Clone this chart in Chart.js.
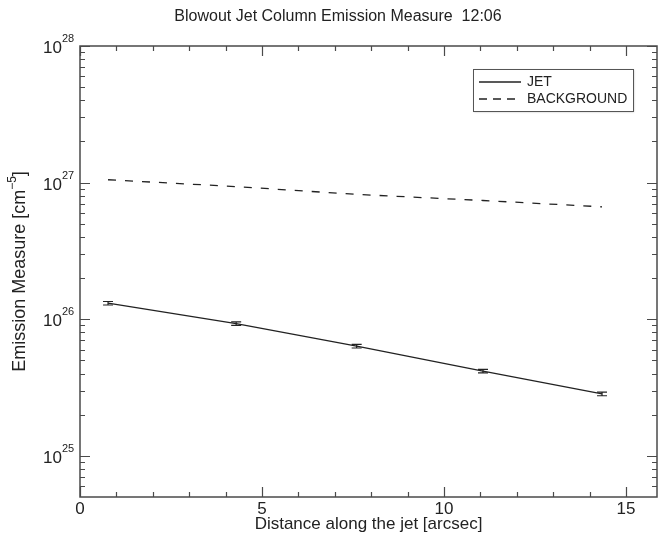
<!DOCTYPE html>
<html>
<head>
<meta charset="utf-8">
<script src="https://cdn.jsdelivr.net/npm/chart.js@4/dist/chart.umd.min.js"></script>
<style>
  html, body { margin: 0; padding: 0; background: #fff; }
  #wrap { width: 660px; height: 535px; }
</style>
</head>
<body>
<div id="wrap"><canvas id="chart" width="660" height="535"></canvas></div>
<script>
// data
const distance = [0.77, 4.29, 7.6, 11.07, 14.34];
const jetEM = [1.31e26, 9.3e25, 6.35e25, 4.17e25, 2.84e25];
const jetErr = [3.9e24, 2.8e24, 1.9e24, 1.25e24, 0.85e24];
const backgroundEM = [1.05e27, 9.35e26, 8.2e26, 7.4e26, 6.65e26];

const xTicks = [0, 5, 10, 15];
const yDecades = [25, 26, 27, 28];

const FONT = '"Liberation Sans", Arial, Helvetica, sans-serif';
const AXIS = '#4a4a4a';
const INK = '#222';

const idlAxes = {
  id: 'idlAxes',
  afterDraw(chart) {
    const { ctx, chartArea: a, scales: { x, y } } = chart;
    ctx.save();

    // frame
    ctx.strokeStyle = AXIS;
    ctx.lineWidth = 1.5;
    ctx.strokeRect(a.left, a.top, a.right - a.left, a.bottom - a.top);

    // x ticks (bottom + top)
    ctx.lineWidth = 1.2;
    ctx.beginPath();
    for (let v = 0; v <= Math.floor(x.max); v++) {
      const px = Math.round(x.getPixelForValue(v)) + 0.5;
      const len = v % 5 === 0 ? 10 : 5;
      ctx.moveTo(px, a.bottom); ctx.lineTo(px, a.bottom - len);
      ctx.moveTo(px, a.top); ctx.lineTo(px, a.top + len);
    }
    // y ticks (left + right)
    for (let d = 24; d <= 28; d++) {
      for (let m = 1; m <= 9; m++) {
        const v = m * Math.pow(10, d);
        if (v < y.min || v > y.max) continue;
        const py = Math.round(y.getPixelForValue(v)) + 0.5;
        const len = m === 1 ? 10 : 5;
        ctx.moveTo(a.left, py); ctx.lineTo(a.left + len, py);
        ctx.moveTo(a.right, py); ctx.lineTo(a.right - len, py);
      }
    }
    ctx.stroke();

    // x tick labels
    ctx.fillStyle = INK;
    ctx.font = '17px ' + FONT;
    ctx.textAlign = 'center';
    ctx.textBaseline = 'middle';
    xTicks.forEach(v => ctx.fillText(String(v), x.getPixelForValue(v), a.bottom + 12));

    // y tick labels 10^n
    yDecades.forEach(d => {
      const py = y.getPixelForValue(Math.pow(10, d));
      ctx.font = '17px ' + FONT;
      ctx.textAlign = 'right';
      ctx.textBaseline = 'alphabetic';
      ctx.fillText('10', a.left - 18, py + 7);
      ctx.font = '11px ' + FONT;
      ctx.textAlign = 'left';
      ctx.fillText(String(d), a.left - 18, py - 4);
    });

    // axis titles
    ctx.font = '17px ' + FONT;
    ctx.textAlign = 'center';
    ctx.textBaseline = 'middle';
    ctx.fillText('Distance along the jet [arcsec]', (a.left + a.right) / 2, a.bottom + 27);

    ctx.save();
    ctx.translate(20, (a.top + a.bottom) / 2);
    ctx.rotate(-Math.PI / 2);
    const main = 'Emission Measure [cm';
    const sup = '\u22125';
    ctx.font = '18px ' + FONT;
    const w1 = ctx.measureText(main).width;
    ctx.font = '12px ' + FONT;
    const w2 = ctx.measureText(sup).width;
    ctx.font = '18px ' + FONT;
    const w3 = ctx.measureText(']').width;
    const sx = -(w1 + w2 + w3) / 2;
    ctx.textAlign = 'left';
    ctx.fillText(main, sx, 0);
    ctx.font = '12px ' + FONT;
    ctx.fillText(sup, sx + w1, -7);
    ctx.font = '18px ' + FONT;
    ctx.fillText(']', sx + w1 + w2, 0);
    ctx.restore();

    // title
    ctx.font = '16px ' + FONT;
    ctx.textAlign = 'center';
    ctx.fillText('Blowout Jet Column Emission Measure  12:06', 338, 17);

    // error bars on jet points
    ctx.strokeStyle = INK;
    ctx.lineWidth = 1.2;
    ctx.beginPath();
    distance.forEach((d, i) => {
      const px = x.getPixelForValue(d);
      const lo = y.getPixelForValue(jetEM[i] - jetErr[i]);
      const hi = y.getPixelForValue(jetEM[i] + jetErr[i]);
      ctx.moveTo(px, lo); ctx.lineTo(px, hi);
      ctx.moveTo(px - 5, lo); ctx.lineTo(px + 5, lo);
      ctx.moveTo(px - 5, hi); ctx.lineTo(px + 5, hi);
    });
    ctx.stroke();

    // legend box
    ctx.fillStyle = '#fff';
    ctx.shadowColor = 'rgba(0,0,0,0.25)';
    ctx.shadowOffsetX = 1; ctx.shadowOffsetY = 1; ctx.shadowBlur = 2;
    ctx.fillRect(473, 69, 160, 42);
    ctx.shadowColor = 'transparent';
    ctx.strokeStyle = '#555';
    ctx.lineWidth = 1;
    ctx.strokeRect(473.5, 69.5, 160, 42);

    ctx.strokeStyle = INK;
    ctx.lineWidth = 1.3;
    ctx.beginPath(); ctx.moveTo(479, 82); ctx.lineTo(521, 82); ctx.stroke();
    ctx.setLineDash([8, 6]);
    ctx.beginPath(); ctx.moveTo(479, 99); ctx.lineTo(521, 99); ctx.stroke();
    ctx.setLineDash([]);
    ctx.fillStyle = INK;
    ctx.font = '14px ' + FONT;
    ctx.textAlign = 'left';
    ctx.textBaseline = 'middle';
    ctx.fillText('JET', 527, 82);
    ctx.fillText('BACKGROUND', 527, 99);

    ctx.restore();
  }
};

new Chart(document.getElementById('chart'), {
  type: 'line',
  data: {
    datasets: [
      {
        label: 'JET',
        data: distance.map((d, i) => ({ x: d, y: jetEM[i] })),
        borderColor: INK,
        borderWidth: 1.3,
        pointRadius: 0,
        tension: 0,
      },
      {
        label: 'BACKGROUND',
        data: distance.map((d, i) => ({ x: d, y: backgroundEM[i] })),
        borderColor: INK,
        borderWidth: 1.3,
        borderDash: [8, 9],
        pointRadius: 0,
        tension: 0,
      }
    ]
  },
  options: {
    responsive: false,
    animation: false,
    layout: { padding: { top: 46, right: 3, left: 0, bottom: 0 } },
    plugins: { legend: { display: false }, tooltip: { enabled: false }, title: { display: false } },
    scales: {
      x: {
        type: 'linear', min: 0, max: 15.85,
        grid: { display: false }, border: { display: false },
        ticks: { display: false },
        afterFit: s => { s.height = 38; }
      },
      y: {
        type: 'logarithmic', min: 5e24, max: 1e28,
        grid: { display: false }, border: { display: false },
        ticks: { display: false },
        afterFit: s => { s.width = 80; }
      }
    }
  },
  plugins: [idlAxes]
});
</script>
</body>
</html>
